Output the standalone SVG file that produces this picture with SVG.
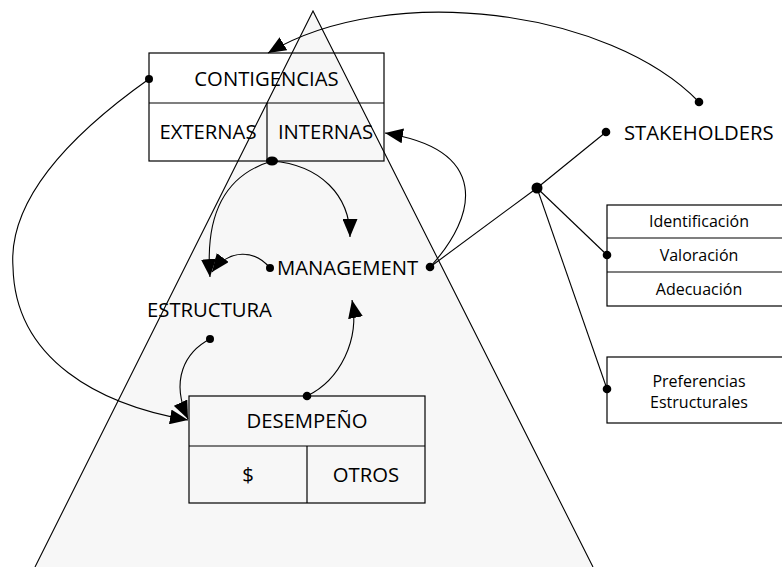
<svg xmlns="http://www.w3.org/2000/svg" width="782" height="567" viewBox="0 0 782 567">
<style>
.t{font-family:"Open Sans","Liberation Sans",sans-serif;font-size:20.3px;fill:#000}
.s{font-family:"Open Sans","Liberation Sans",sans-serif;font-size:16px;fill:#000}
.m{text-anchor:middle}
.box{fill:none;stroke:#000;stroke-width:1.2}
.c{fill:none;stroke:#000;stroke-width:1.1}
.d{fill:#000}
</style>
<defs>
<marker id="ah" markerUnits="userSpaceOnUse" viewBox="0 0 18 15" markerWidth="18" markerHeight="15" refX="18" refY="7.5" orient="auto">
<path d="M0,0 L18,7.5 L0,15 z" fill="#000"/>
</marker>
</defs>
<rect width="782" height="567" fill="#fff"/>
<g id="piramide">
<path d="M35,567 L313,11 L593,567" fill="#f7f7f7" stroke="#000" stroke-width="1.1"/>
</g>
<g id="contigencias">
<rect class="box" x="149" y="53" width="235" height="108"/>
<line class="box" x1="149" y1="103" x2="384" y2="103"/>
<line class="box" x1="267" y1="103" x2="267" y2="161"/>
<text class="t m" x="266.5" y="86">CONTIGENCIAS</text>
<text class="t m" x="208" y="139">EXTERNAS</text>
<text class="t m" x="325.5" y="139">INTERNAS</text>
</g>
<g id="management">
<text class="t" x="277" y="275">MANAGEMENT</text>
</g>
<g id="estructura">
<text class="t" x="147" y="317">ESTRUCTURA</text>
</g>
<g id="desempeno">
<rect class="box" x="189" y="396" width="236" height="107"/>
<line class="box" x1="189" y1="446" x2="425" y2="446"/>
<line class="box" x1="307" y1="446" x2="307" y2="503"/>
<text class="t m" x="307" y="428">DESEMPEÑO</text>
<text class="t m" x="248" y="482">$</text>
<text class="t m" x="366" y="482">OTROS</text>
</g>
<g id="stakeholders">
<text class="t" x="624" y="140">STAKEHOLDERS</text>
</g>
<g id="evaluacion">
<rect class="box" x="607" y="205" width="190" height="101"/>
<line class="box" x1="607" y1="238" x2="797" y2="238"/>
<line class="box" x1="607" y1="272" x2="797" y2="272"/>
<text class="s m" x="699" y="227">Identificación</text>
<text class="s m" x="699" y="261">Valoración</text>
<text class="s m" x="699" y="295">Adecuación</text>
</g>
<g id="preferencias">
<rect class="box" x="607" y="357" width="190" height="66"/>
<text class="s m" x="699" y="387">Preferencias</text>
<text class="s m" x="699" y="408">Estructurales</text>
</g>
<g id="connectors">
<path class="c" d="M699,102 C610,10 390,-20 268,53" marker-end="url(#ah)"/>
<path class="c" d="M149,79 C70,135 8,200 13,267 C15,360 100,405 188,420" marker-end="url(#ah)"/>
<path class="c" d="M430,267 C478,215 490,150 385,133" marker-end="url(#ah)"/>
<path class="c" d="M272,161 C320,165 350,195 350,237" marker-end="url(#ah)"/>
<path class="c" d="M272,161 C225,175 205,215 210,277" marker-end="url(#ah)"/>
<path class="c" d="M270,268 C255,250 230,248 212,272" marker-end="url(#ah)"/>
<path class="c" d="M210,339 C185,352 170,380 188,419" marker-end="url(#ah)"/>
<path class="c" d="M307,396 C340,380 360,340 352,300" marker-end="url(#ah)"/>
<line class="c" x1="430" y1="267" x2="537" y2="188"/>
<line class="c" x1="537" y1="188" x2="606" y2="132"/>
<line class="c" x1="537" y1="188" x2="607" y2="255"/>
<line class="c" x1="537" y1="188" x2="607" y2="389"/>
<circle class="d" cx="149" cy="79" r="4"/>
<circle class="d" cx="699" cy="102" r="4.3"/>
<circle class="d" cx="606" cy="132" r="4.3"/>
<circle class="d" cx="537" cy="188" r="5.5"/>
<circle class="d" cx="607" cy="255" r="4.3"/>
<circle class="d" cx="607" cy="389" r="4.3"/>
<circle class="d" cx="270" cy="268" r="4"/>
<circle class="d" cx="430" cy="267" r="4.3"/>
<circle class="d" cx="210" cy="339" r="4"/>
<circle class="d" cx="307" cy="396" r="4.3"/>
<ellipse class="d" cx="272" cy="161" rx="6" ry="4.5"/>
</g>
</svg>
